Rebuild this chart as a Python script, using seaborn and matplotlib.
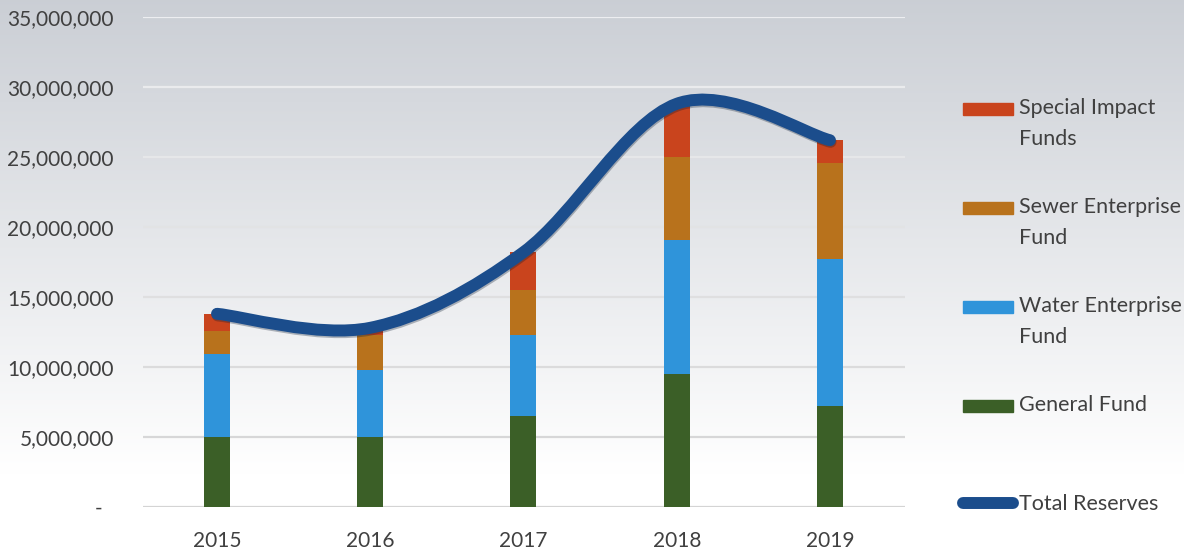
import numpy as np
import matplotlib
matplotlib.use("Agg")
import matplotlib.pyplot as plt
import seaborn as sns
from matplotlib.path import Path
from matplotlib.patches import PathPatch, Rectangle
from matplotlib.lines import Line2D
from matplotlib.legend_handler import HandlerPatch
import matplotlib.patheffects as pe
from matplotlib.ticker import FuncFormatter

# ---------------- data ----------------
years = ["2015", "2016", "2017", "2018", "2019"]
general_fund = [5.0e6, 5.0e6, 6.5e6, 9.5e6, 7.2e6]
water_fund = [5.9e6, 4.8e6, 5.8e6, 9.6e6, 10.5e6]
sewer_fund = [1.7e6, 2.5e6, 3.2e6, 5.9e6, 6.9e6]
special_funds = [1.2e6, 0.5e6, 2.7e6, 3.8e6, 1.6e6]
total_reserves = [13.8e6, 12.8e6, 18.2e6, 28.8e6, 26.2e6]
y_ticks = [0, 5e6, 10e6, 15e6, 20e6, 25e6, 30e6, 35e6]

series_names = ["Special Impact\nFunds", "Sewer Enterprise\nFund",
                "Water Enterprise\nFund", "General Fund\n "]
line_name = "Total Reserves\n "

# ---------------- style ----------------
sns.set_style("white")
plt.rcParams["font.family"] = ["Lato", "DejaVu Sans"]
text_color = "#404040"
c_special = "#c9441d"
c_sewer = "#b8721c"
c_water = "#2f94da"
c_general = "#3b5f27"
c_line = "#1b4d8c"

W, H, DPI = 11.84, 5.56, 100
fig = plt.figure(figsize=(W, H), dpi=DPI)

# gradient background
bg = fig.add_axes([0, 0, 1, 1], zorder=-10)
top = np.array([0.795, 0.81, 0.835])
grad_t = np.clip(np.linspace(0, 1, 300) / 0.85, 0, 1)[:, None]
img = top[None, :] * (1 - grad_t) + np.ones(3)[None, :] * grad_t
bg.imshow(img[:, None, :], aspect="auto", extent=[0, 1, 0, 1])
bg.set_axis_off()

ax = fig.add_axes([143 / 1184, 1 - 507 / 556, 762 / 1184, 490 / 556])
ax.set_facecolor("none")

# stacked bars (cumulative, tallest first)
gen = np.array(general_fund)
wat = np.array(water_fund)
sew = np.array(sewer_fund)
spe = np.array(special_funds)
stack = [
    (gen + wat + sew + spe, c_special),
    (gen + wat + sew, c_sewer),
    (gen + wat, c_water),
    (gen, c_general),
]
for vals, col in stack:
    sns.barplot(x=years, y=vals, color=col, width=0.17, saturation=1,
                errorbar=None, ax=ax, order=years, zorder=3,
                linewidth=0, edgecolor="none")

# smoothed total line (Bezier, Excel-style smoothing)
pts = np.column_stack([np.arange(len(years)), np.array(total_reserves)])
n = len(pts)
verts = [tuple(pts[0])]
codes = [Path.MOVETO]
for i in range(n - 1):
    p_prev = pts[max(i - 1, 0)]
    p0 = pts[i]
    p1 = pts[i + 1]
    p_next = pts[min(i + 2, n - 1)]
    c1 = p0 + (p1 - p_prev) / 6.0
    c2 = p1 - (p_next - p0) / 6.0
    verts += [tuple(c1), tuple(c2), tuple(p1)]
    codes += [Path.CURVE4] * 3
lw = 8.6
patch = PathPatch(Path(verts, codes), facecolor="none", edgecolor=c_line,
                  lw=lw, capstyle="round", joinstyle="round", zorder=5)
patch.set_path_effects([pe.SimpleLineShadow(offset=(0.5, -1.2), alpha=0.3,
                                            shadow_color="#0a1a30"),
                        pe.Normal()])
ax.add_patch(patch)

# axes
ax.set_xlim(-0.483, 4.49)
ax.set_ylim(0, 35e6)
ax.set_yticks(y_ticks)
ax.yaxis.set_major_formatter(FuncFormatter(
    lambda v, p: "-  " if v == 0 else f"{v:,.0f}"))
ax.set_xlabel("")
ax.set_ylabel("")
ax.tick_params(axis="y", length=0, pad=21, labelsize=15, labelcolor=text_color)
ax.tick_params(axis="x", length=0, pad=17, labelsize=15, labelcolor=text_color)
for s in ax.spines.values():
    s.set_visible(False)
ax.yaxis.grid(True, linewidth=1.6, zorder=0)
ax.set_axisbelow(True)
for tv, gl in zip(y_ticks, ax.get_ygridlines()):
    t = tv / 35e6
    lo = np.array([0.83, 0.83, 0.83])
    hi = np.array([0.93, 0.935, 0.945])
    gl.set_color(tuple(lo * (1 - t) + hi * t))

# legend
def small_rect(legend, orig_handle, xdescent, ydescent, width, height, fontsize):
    rh = lw
    return Rectangle((-xdescent, -ydescent + (height - rh) / 2), width, rh)

handles = [Rectangle((0, 0), 1, 1, color=c) for c in
           [c_special, c_sewer, c_water, c_general]]
handles.append(Line2D([0], [0], color=c_line, lw=lw, solid_capstyle="round"))
labels = series_names + [line_name]
hmap = {Rectangle: HandlerPatch(patch_func=small_rect)}
leg = fig.legend(handles, labels, loc="upper left",
                 bbox_to_anchor=(963 / 1184, 1 - 98 / 556),
                 frameon=False, fontsize=15.5, labelcolor=text_color,
                 handlelength=2.3, handleheight=1.15, handletextpad=0.3,
                 labelspacing=2.22, borderpad=0, borderaxespad=0,
                 handler_map=hmap)
for t in leg.get_texts():
    t.set_linespacing(1.7)
for col in leg._legend_handle_box.get_children():
    for item in col.get_children():
        item.align = "top"

fig.savefig("out.png", dpi=DPI)
